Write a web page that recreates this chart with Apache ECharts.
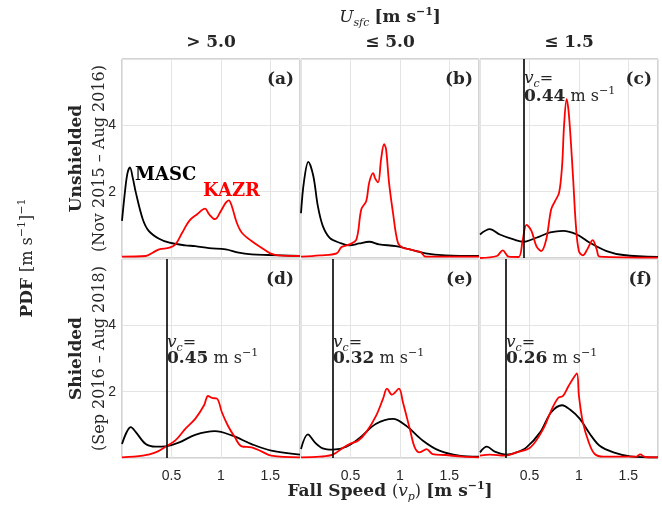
<!DOCTYPE html>
<html><head><meta charset="utf-8">
<script src="https://cdn.jsdelivr.net/npm/echarts@6/dist/echarts.min.js"></script>
<style>html,body{margin:0;padding:0;background:#fff}#c{width:662px;height:510px}</style>
</head><body><div id="c"></div>
<script>
// ---- data (fall speed [m/s], PDF) ----
const xTicks = [0.5, 1, 1.5];
const yTicks = [2, 4];
const colTitles = ['> 5.0', '≤ 5.0', '≤ 1.5'];
const panelTags = ['(a)', '(b)', '(c)', '(d)', '(e)', '(f)'];
const vcValues = [null, null, 0.44, 0.45, 0.32, 0.26];

const mascA = [[0,1.12],[0.03,2.0],[0.055,2.55],[0.08,2.73],[0.11,2.4],[0.14,1.97],[0.21,1.17],[0.27,0.82],[0.375,0.58],[0.48,0.46],[0.64,0.38],[0.74,0.36],[0.88,0.30],[1.05,0.26],[1.18,0.16],[1.31,0.11],[1.48,0.09],[1.8,0.06]];
const kazrA = [[0,0.04],[0.24,0.06],[0.31,0.16],[0.375,0.26],[0.48,0.31],[0.54,0.41],[0.61,0.77],[0.68,1.12],[0.76,1.32],[0.84,1.49],[0.88,1.32],[0.94,1.17],[1.0,1.42],[1.05,1.67],[1.08,1.74],[1.11,1.57],[1.16,1.07],[1.21,0.77],[1.31,0.51],[1.41,0.31],[1.50,0.14],[1.58,0.08],[1.8,0.06]];
const mascB = [[0,1.35],[0.03,2.3],[0.074,2.9],[0.124,2.48],[0.17,1.57],[0.22,0.97],[0.29,0.61],[0.39,0.46],[0.49,0.38],[0.59,0.44],[0.69,0.49],[0.79,0.41],[0.96,0.36],[1.10,0.26],[1.26,0.14],[1.46,0.08],[1.8,0.06]];
const kazrB = [[0,0.04],[0.19,0.08],[0.36,0.14],[0.41,0.33],[0.49,0.41],[0.56,0.56],[0.61,1.47],[0.66,1.72],[0.69,2.28],[0.73,2.56],[0.75,2.40],[0.78,2.28],[0.81,2.98],[0.84,3.43],[0.86,3.28],[0.89,2.28],[0.93,1.37],[0.98,0.46],[1.03,0.31],[1.10,0.26],[1.16,0.21],[1.21,0.18],[1.26,0.04],[1.8,0.04]];
const mascC = [[0,0.71],[0.10,0.87],[0.20,0.71],[0.34,0.56],[0.44,0.49],[0.57,0.61],[0.71,0.77],[0.84,0.82],[0.98,0.71],[1.11,0.46],[1.28,0.21],[1.45,0.09],[1.8,0.03]];
const kazrC = [[0,0.0],[0.17,0.06],[0.23,0.23],[0.29,0.04],[0.39,0.03],[0.43,0.51],[0.47,1.0],[0.52,0.82],[0.57,0.36],[0.62,0.21],[0.67,0.56],[0.72,1.47],[0.76,1.72],[0.80,1.97],[0.83,2.78],[0.85,3.99],[0.876,4.79],[0.90,4.29],[0.94,2.48],[0.97,0.97],[1.0,0.21],[1.04,0.08],[1.085,0.26],[1.14,0.54],[1.18,0.26],[1.21,0.04],[1.8,0.01]];
const mascD = [[0,0.42],[0.09,0.93],[0.14,0.78],[0.24,0.42],[0.34,0.34],[0.44,0.35],[0.58,0.47],[0.74,0.70],[0.94,0.81],[1.11,0.68],[1.31,0.42],[1.51,0.22],[1.8,0.10]];
const kazrD = [[0,0.02],[0.21,0.07],[0.34,0.17],[0.44,0.34],[0.54,0.53],[0.64,0.88],[0.74,1.18],[0.83,1.59],[0.87,1.87],[0.91,1.81],[0.96,1.79],[1.01,1.38],[1.07,0.98],[1.14,0.63],[1.21,0.35],[1.31,0.32],[1.41,0.20],[1.51,0.07],[1.8,0.02]];
const mascE = [[0,0.27],[0.07,0.71],[0.14,0.47],[0.22,0.29],[0.32,0.25],[0.46,0.34],[0.59,0.60],[0.76,1.03],[0.93,1.18],[1.06,0.98],[1.23,0.53],[1.40,0.22],[1.60,0.07],[1.8,0.04]];
const kazrE = [[0,0.02],[0.19,0.04],[0.32,0.10],[0.43,0.32],[0.49,0.42],[0.58,0.53],[0.66,0.78],[0.76,1.28],[0.83,1.79],[0.87,2.09],[0.92,1.91],[0.99,2.09],[1.03,1.69],[1.10,0.88],[1.15,0.32],[1.20,0.17],[1.27,0.27],[1.33,0.12],[1.46,0.09],[1.63,0.04],[1.8,0.02]];
const mascF = [[0,0.17],[0.07,0.34],[0.15,0.19],[0.27,0.10],[0.37,0.17],[0.47,0.32],[0.61,0.78],[0.72,1.38],[0.83,1.59],[0.91,1.46],[1.01,1.18],[1.11,0.73],[1.21,0.37],[1.35,0.17],[1.52,0.05],[1.8,0.02]];
const kazrF = [[0,0.07],[0.10,0.10],[0.25,0.07],[0.37,0.17],[0.51,0.32],[0.64,0.88],[0.72,1.43],[0.79,1.81],[0.84,1.87],[0.89,2.14],[0.94,2.39],[0.98,2.55],[1.0,1.89],[1.04,1.08],[1.10,0.47],[1.16,0.12],[1.25,0.04],[1.58,0.04],[1.62,0.11],[1.67,0.03],[1.8,0.02]];

const mascAll = [mascA, mascB, mascC, mascD, mascE, mascF];
const kazrAll = [kazrA, kazrB, kazrC, kazrD, kazrE, kazrF];

// ---- layout ----
const lefts = [122, 301, 480], tops = [59, 259], W = 178, H = 199;
const SERIF = '"DejaVu Serif", serif';
const SANS = '"Liberation Sans", Arial, sans-serif';

const grid = [], xAxis = [], yAxis = [], series = [];
for (let i = 0; i < 6; i++) {
  const r = Math.floor(i / 3), c = i % 3;
  grid.push({ left: lefts[c], top: tops[r], width: W, height: H, show: true, borderColor: '#a6a6a6', borderWidth: 1, backgroundColor: 'transparent' });
  xAxis.push({ type: 'value', gridIndex: i, min: 0, max: 1.8, interval: 0.5,
    axisLine: { show: false }, axisTick: { show: false },
    splitLine: { show: true, lineStyle: { color: '#e4e4e4', width: 1 } },
    axisLabel: { show: r === 1, showMinLabel: false, showMaxLabel: false, margin: 11, color: '#262626', fontFamily: SANS, fontSize: 14,
      formatter: v => xTicks.includes(v) ? String(v) : '' } });
  yAxis.push({ type: 'value', gridIndex: i, min: 0, max: 6, interval: 2,
    axisLine: { show: false }, axisTick: { show: false },
    splitLine: { show: true, lineStyle: { color: '#e4e4e4', width: 1 } },
    axisLabel: { show: c === 0, showMinLabel: false, showMaxLabel: false, margin: 6, color: '#262626', fontFamily: SANS, fontSize: 14,
      formatter: v => yTicks.includes(v) ? String(v) : '' } });
  const m = { type: 'line', xAxisIndex: i, yAxisIndex: i, data: mascAll[i], smooth: 0.35, showSymbol: false,
    lineStyle: { color: '#000', width: 1.8 }, z: 3 };
  if (vcValues[i] !== null) {
    m.markLine = { silent: true, symbol: 'none', label: { show: false },
      lineStyle: { color: '#000', width: 1.6, type: 'solid' }, data: [{ xAxis: vcValues[i] }] };
  }
  series.push(m);
  series.push({ type: 'line', xAxisIndex: i, yAxisIndex: i, data: kazrAll[i], smooth: 0.35, showSymbol: false,
    lineStyle: { color: '#ff0000', width: 1.8 }, z: 4 });
}

const richBase = {
  b: { fontFamily: SERIF, fontWeight: 'bold', fontSize: 17, fill: '#262626', lineHeight: 22, verticalAlign: 'middle' },
  r: { fontFamily: SERIF, fontSize: 16, fill: '#262626', lineHeight: 22, verticalAlign: 'middle' },
  i: { fontFamily: SERIF, fontStyle: 'italic', fontSize: 17, fill: '#262626', lineHeight: 22, verticalAlign: 'middle' },
  s: { fontFamily: SERIF, fontStyle: 'italic', fontSize: 11, fill: '#262626', verticalAlign: 'bottom' },
  p: { fontFamily: SERIF, fontSize: 11, fill: '#262626', verticalAlign: 'top' },
  pb: { fontFamily: SERIF, fontSize: 11, fontWeight: 'bold', fill: '#262626', verticalAlign: 'top' }
};
function txt(text, x, y, opts) {
  opts = opts || {};
  return { type: 'text', x: x, y: y, rotation: opts.rot || 0, silent: true, z: 100,
    style: { text: text, rich: richBase, align: opts.align || 'center', verticalAlign: 'middle', fill: opts.fill || '#262626' } };
}
const graphic = [];
graphic.push(txt('{i|U}{s|sfc}{r| }{b|[m s}{pb|−1}{b|]}', 390, 18));
colTitles.forEach((t, c) => graphic.push(txt('{b|' + t + '}', lefts[c] + W / 2, 43)));
panelTags.forEach((t, i) => {
  const r = Math.floor(i / 3), c = i % 3;
  graphic.push(txt('{b|' + t + '}', lefts[c] + W - 6, tops[r] + 21, { align: 'right' }));
});
graphic.push({ type: 'text', x: 135, y: 175, silent: true, z: 100,
  style: { text: 'MASC', font: 'bold 18px ' + SERIF, fill: '#000', align: 'left', verticalAlign: 'middle' } });
graphic.push({ type: 'text', x: 203, y: 191, silent: true, z: 100,
  style: { text: 'KAZR', font: 'bold 18px ' + SERIF, fill: '#ff0000', align: 'left', verticalAlign: 'middle' } });
// v_c annotations
const vcPos = [null, null, [524, 79, 97], [167, 343, 359], [333, 343, 359], [506, 343, 359]];
vcValues.forEach((v, i) => {
  if (v === null) return;
  const p = vcPos[i];
  graphic.push(txt('{i|v}{s|c}{r|=}', p[0], p[1], { align: 'left' }));
  graphic.push(txt('{b|' + v.toFixed(2) + '}{r| m s}{p|−1}', p[0], p[2], { align: 'left' }));
});
// row labels
const rowNames = ['Unshielded', 'Shielded'];
const rowDates = ['(Nov 2015 – Aug 2016)', '(Sep 2016 – Aug 2018)'];
for (let r = 0; r < 2; r++) {
  graphic.push(txt('{b|' + rowNames[r] + '}', 77, tops[r] + H / 2, { rot: Math.PI / 2 }));
  graphic.push(txt('{r|' + rowDates[r] + '}', 100, tops[r] + H / 2, { rot: Math.PI / 2 }));
}
graphic.push(txt('{b|PDF }{r|[m s}{p|−1}{r|]}{p|−1}', 28, 258, { rot: Math.PI / 2 }));
graphic.push(txt('{b|Fall Speed }{r|(}{i|v}{s|p}{r|) }{b|[m s}{pb|−1}{b|]}', 390, 492));

const chart = echarts.init(document.getElementById('c'), null, { renderer: 'canvas' });
chart.setOption({ animation: false, backgroundColor: '#fff', grid, xAxis, yAxis, series, graphic });
</script></body></html>
